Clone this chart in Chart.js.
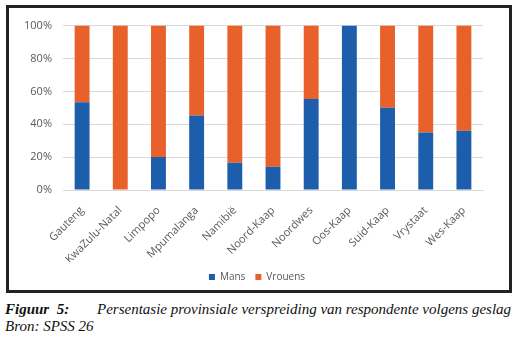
<!DOCTYPE html>
<html>
<head>
<meta charset="utf-8">
<script src="https://cdn.jsdelivr.net/npm/chart.js@4"></script>
<style>
  body { margin: 0; background: #fff; width: 520px; height: 346px; position: relative; overflow: hidden; }
  #frame { position: absolute; left: 6px; top: 5px; width: 500px; height: 282px; border: 3px solid #222; }
  #frame canvas { display: block; }
  .cap { position: absolute; font-family: "Liberation Serif", serif; font-style: italic; font-size: 15px; color: #111; white-space: nowrap; }
</style>
</head>
<body>
<div id="frame"><canvas id="genderChart" width="500" height="284"></canvas></div>
<div class="cap" style="left:5px; top:301px;"><b>Figuur&nbsp; 5:</b></div>
<div class="cap" style="left:97px; top:301px;">Persentasie provinsiale verspreiding van respondente volgens geslag</div>
<div class="cap" style="left:5px; top:318px;">Bron: SPSS 26</div>

<script>
const provinces = [
  "Gauteng",
  "KwaZulu-Natal",
  "Limpopo",
  "Mpumalanga",
  "Namibië",
  "Noord-Kaap",
  "Noordwes",
  "Oos-Kaap",
  "Suid-Kaap",
  "Vrystaat",
  "Wes-Kaap",
];
const mans = [53.4, 0, 20.1, 45.3, 16.5, 14.1, 55.4, 100, 50, 35, 36];
const vrouens = [46.6, 100, 79.9, 54.7, 83.5, 85.9, 44.6, 0, 50, 65, 64];
const yTicks = [0, 20, 40, 60, 80, 100];

// nudge the legend row a bit to the right so it sits centred like the original
const legendShift = {
  id: "legendShift",
  afterLayout: function (chart) {
    if (chart.legend) {
      chart.legend.left += 11;
      chart.legend.right += 11;
    }
  },
};

document.addEventListener("DOMContentLoaded", function () {
  const ctx = document.getElementById("genderChart");

  new Chart(ctx, {
    type: "bar",
    data: {
      labels: provinces,
      datasets: [
        {
          label: "Mans",
          data: mans,
          backgroundColor: "#1c5dac",
          categoryPercentage: 1,
          barPercentage: 0.39,
        },
        {
          label: "Vrouens",
          data: vrouens,
          backgroundColor: "#e8612a",
          categoryPercentage: 1,
          barPercentage: 0.39,
        },
      ],
    },
    options: {
      responsive: false,
      animation: false,
      layout: {
        padding: { left: 0, top: 16, right: 26, bottom: 0 },
      },
      plugins: {
        legend: {
          position: "bottom",
          labels: {
            boxWidth: 6,
            boxHeight: 6,
            padding: 10,
            color: "#595959",
            font: { family: "Open Sans", size: 10 },
          },
        },
        tooltip: { enabled: false },
      },
      scales: {
        x: {
          stacked: true,
          grid: { display: false },
          border: { color: "#d9d9d9" },
          ticks: {
            minRotation: 45,
            maxRotation: 45,
            padding: 6,
            color: "#595959",
            font: { family: "Open Sans", size: 11 },
          },
          afterFit: function (scale) {
            scale.height = 72;
          },
        },
        y: {
          stacked: true,
          min: 0,
          max: 100,
          border: { display: false },
          grid: { color: "#d9d9d9", drawTicks: false },
          afterBuildTicks: function (scale) {
            scale.ticks = yTicks.map(function (v) { return { value: v }; });
          },
          ticks: {
            padding: 11,
            color: "#595959",
            font: { family: "Open Sans", size: 11 },
            callback: function (value) {
              return value + "%";
            },
          },
          afterFit: function (scale) {
            scale.width = 54;
          },
        },
      },
    },
    plugins: [legendShift],
  });
});
</script>
</body>
</html>
